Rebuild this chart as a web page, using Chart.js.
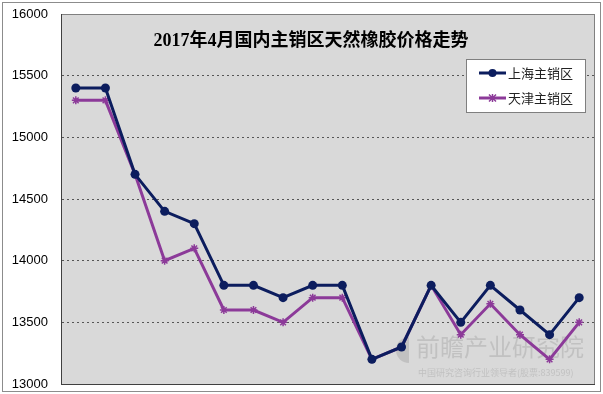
<!DOCTYPE html>
<html>
<head>
<meta charset="utf-8">
<script src="https://cdn.jsdelivr.net/npm/chart.js@4"></script>
<style>
  html, body { margin: 0; padding: 0; background: #fff; }
  #wrap { width: 603px; height: 394px; }
</style>
</head>
<body>
<div id="wrap"><canvas id="chart" width="603" height="394"></canvas></div>
<script>
// data
const days = ['1','2','3','4','5','6','7','8','9','10','11','12','13','14','15','16','17','18'];
const shanghai = [15400, 15400, 14700, 14400, 14300, 13800, 13800, 13700, 13800, 13800, 13200, 13300, 13800, 13500, 13800, 13600, 13400, 13700];
const tianjin  = [15300, 15300, 14700, 14000, 14100, 13600, 13600, 13500, 13700, 13700, 13200, 13300, 13800, 13400, 13650, 13400, 13200, 13500];
const seriesNames = ['上海主销区', '天津主销区'];
const chartTitle = '2017年4月国内主销区天然橡胶价格走势';

const navy = '#0c1d5e';
const purple = '#8c3a99';

// background, borders, title, legend box, watermark
const decor = {
  id: 'decor',
  beforeDraw(chart) {
    const ctx = chart.ctx, a = chart.chartArea;
    ctx.save();
    ctx.fillStyle = '#fff';
    ctx.fillRect(0, 0, chart.width, chart.height);
    ctx.strokeStyle = '#8c8c8c';
    ctx.lineWidth = 1;
    ctx.strokeRect(2.5, 2.5, chart.width - 5, chart.height - 5);
    ctx.fillStyle = '#d9d9d9';
    ctx.fillRect(a.left, a.top, a.right - a.left, a.bottom - a.top);
    ctx.strokeStyle = '#808080';
    ctx.strokeRect(a.left + 0.5, a.top + 0.5, a.right - a.left, a.bottom - a.top);
    // watermark
    ctx.globalAlpha = 0.3;
    ctx.fillStyle = '#8a8a8a';
    ctx.beginPath();
    ctx.arc(409, 350, 13, Math.PI * 0.5, Math.PI * 1.5);
    ctx.fill();
    ctx.font = '24px "Noto Sans CJK SC"';
    ctx.textBaseline = 'middle';
    ctx.fillText('前瞻产业研究院', 416, 347);
    ctx.font = '9px "Noto Sans CJK SC"';
    ctx.fillText('中国研究咨询行业领导者(股票:839599)', 418, 373);
    ctx.restore();
  },
  afterDraw(chart) {
    const ctx = chart.ctx;
    ctx.save();
    ctx.fillStyle = '#000';
    ctx.font = 'bold 18px "Liberation Serif", "Noto Sans CJK SC", serif';
    ctx.textAlign = 'center';
    ctx.textBaseline = 'middle';
    ctx.fillText(chartTitle, 311, 41);

    // legend
    const lx = 466, ly = 59, lw = 119, lh = 53;
    ctx.fillStyle = '#fff';
    ctx.fillRect(lx, ly, lw, lh);
    ctx.strokeStyle = '#7f7f7f';
    ctx.lineWidth = 1;
    ctx.strokeRect(lx + 0.5, ly + 0.5, lw, lh);
    const rows = [
      { name: seriesNames[0], color: navy, y: ly + 14, mark: 'dot' },
      { name: seriesNames[1], color: purple, y: ly + 39, mark: 'star' }
    ];
    rows.forEach(r => {
      ctx.strokeStyle = r.color;
      ctx.lineWidth = 3;
      ctx.beginPath();
      ctx.moveTo(479, r.y);
      ctx.lineTo(506, r.y);
      ctx.stroke();
      if (r.mark === 'dot') {
        ctx.fillStyle = r.color;
        ctx.beginPath();
        ctx.arc(492.5, r.y, 4, 0, Math.PI * 2);
        ctx.fill();
      } else {
        ctx.lineWidth = 1.5;
        ctx.beginPath();
        ctx.moveTo(489, r.y - 3.5); ctx.lineTo(496, r.y + 3.5);
        ctx.moveTo(496, r.y - 3.5); ctx.lineTo(489, r.y + 3.5);
        ctx.moveTo(492.5, r.y - 4); ctx.lineTo(492.5, r.y + 4);
        ctx.stroke();
      }
      ctx.fillStyle = '#222';
      ctx.font = '13px "Noto Sans CJK SC"';
      ctx.textAlign = 'left';
      ctx.fillText(r.name, 508, r.y);
    });
    ctx.restore();
  }
};

new Chart(document.getElementById('chart'), {
  type: 'line',
  data: {
    labels: days,
    datasets: [
      {
        label: seriesNames[0],
        data: shanghai,
        borderColor: navy,
        backgroundColor: navy,
        borderWidth: 3,
        pointStyle: 'circle',
        pointRadius: 4.5,
        pointBorderWidth: 0,
        tension: 0
      },
      {
        label: seriesNames[1],
        data: tianjin,
        borderColor: purple,
        backgroundColor: purple,
        borderWidth: 3,
        pointStyle: 'star',
        pointRadius: 4,
        pointBorderWidth: 1.5,
        tension: 0
      }
    ]
  },
  options: {
    responsive: false,
    animation: false,
    devicePixelRatio: 1,
    layout: { padding: { left: 0, top: 14, right: 9, bottom: 10 } },
    plugins: {
      legend: { display: false },
      title: { display: false },
      tooltip: { enabled: false }
    },
    scales: {
      x: {
        offset: true,
        grid: { display: false },
        border: { display: true, color: '#404040', width: 1 },
        ticks: { display: false },
        afterFit(s) { s.height = 0; }
      },
      y: {
        min: 13000,
        max: 16000,
        ticks: {
          stepSize: 500,
          color: '#000',
          padding: 13,
          font: { family: '"Liberation Sans", Arial, sans-serif', size: 13 },
          callback: (v) => String(v)
        },
        grid: {
          drawTicks: false,
          color: (c) => (c.tick && (c.tick.value === 13000 || c.tick.value === 16000)) ? 'rgba(0,0,0,0)' : '#555',
          lineWidth: 1
        },
        border: { display: true, color: '#404040', width: 1, dash: [2, 3] },
        afterFit(s) {
          s.width = 61;
          s.paddingTop = 0;
          s.paddingBottom = 0;
        }
      }
    }
  },
  plugins: [decor]
});
</script>
</body>
</html>
